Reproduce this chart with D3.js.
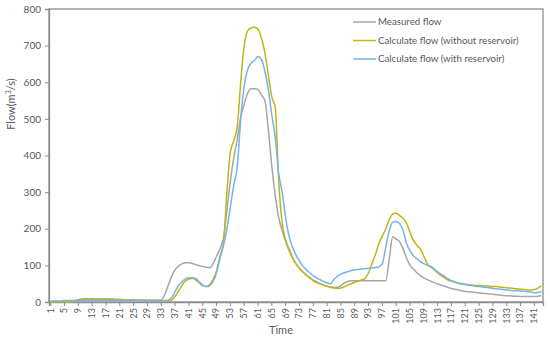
<!DOCTYPE html>
<html>
<head>
<meta charset="utf-8">
<script src="https://cdn.jsdelivr.net/npm/d3@7"></script>
<style>
body { margin:0; background:#fff; }
text { font-family: "Lato", "Open Sans", sans-serif; fill:#595959; }
</style>
</head>
<body>
<svg id="graph" width="550" height="340"></svg>
<script>
// Time steps 1..143
var temps = d3.range(1, 144);

// Measured flow (m3/s)
var debitMesure = [
 0,0,1,1,2,2,3,4,
 6,7,8,8,8,8,8,8,
 8,8,7,7,7,6,6,6,
 5,5,5,5,5,5,5,5,
 6,20,45,70,88,98,104,107,
 107,105,102,99,97,95,93,105,
 125,145,175,250,330,395,445,505,
 540,570,582,582,580,565,550,470,
 370,290,230,195,165,140,120,104,
 92,82,74,67,60,55,50,46,
 43,41,40,40,45,52,56,58,
 58,58,58,58,58,58,58,58,
 58,58,118,178,172,165,145,120,
 100,90,80,72,66,61,57,53,
 49,46,43,40,37,35,33,31,
 29,28,27,26,25,24,23,22,
 21,20,19,18,17,17,16,16,
 15,15,15,15,15,16,18
];

// Calculate flow without reservoir
var sansReservoir = [
 0,0,0,0,0,0,1,3,
 6,8,9,9,9,9,9,8,
 8,8,8,7,7,7,6,6,
 6,5,5,5,4,4,4,3,
 3,2,2,5,15,30,45,58,
 62,65,60,52,44,42,48,62,
 85,125,160,300,410,440,480,600,
 700,740,748,750,745,720,680,620,
 560,530,330,215,170,145,122,105,
 92,82,73,65,58,53,49,46,
 43,40,38,37,38,42,46,50,
 54,57,60,65,80,105,130,160,
 180,200,225,240,242,236,228,215,
 190,168,155,145,125,105,95,88,
 80,72,66,60,57,54,51,49,
 48,47,46,45,45,44,44,43,
 42,42,41,40,39,38,37,36,
 35,34,33,33,34,38,44
];

// Calculate flow with reservoir
var avecReservoir = [
 3,3,3,3,4,4,4,4,
 5,5,5,5,5,5,5,5,
 5,5,5,5,5,5,5,5,
 4,4,4,4,4,4,4,4,
 4,4,5,12,28,45,55,63,
 66,66,64,55,46,42,45,56,
 80,120,155,200,260,320,370,500,
 590,635,652,660,670,662,630,580,
 510,450,350,300,230,180,150,128,
 112,98,88,80,72,66,61,56,
 52,50,62,70,76,80,83,86,
 88,89,90,91,92,93,94,96,
 105,150,195,218,220,214,195,160,
 140,126,118,110,105,100,97,90,
 82,76,70,63,58,55,52,50,
 48,46,45,43,42,41,40,39,
 37,36,35,34,33,32,31,31,
 30,29,28,27,25,26,28
];

var nomsSeries = ["Measured flow", "Calculate flow (without reservoir)", "Calculate flow (with reservoir)"];
var couleurs = ["#a6a6a6", "#c4b414", "#74b4e6"];
var yTicks = [0,100,200,300,400,500,600,700,800];

var svg = d3.select("#graph");
var gauche = 49, droite = 543, haut = 9, bas = 302;

// scales
var scaleX = d3.scaleBand().domain(temps).range([gauche, droite]);
var scaleY = d3.scaleLinear().domain([0, 800]).range([bas, haut]);

// cadre
svg.append("rect")
  .attr("x", gauche).attr("y", haut)
  .attr("width", droite - gauche).attr("height", bas - haut)
  .attr("fill", "none").attr("stroke", "#8c8c8c").attr("stroke-width", 1.3);

// Axe Y
var yAxis = d3.axisLeft(scaleY).tickValues(yTicks).tickSize(4).tickPadding(4);
var gy = svg.append("g").attr("transform", "translate(" + gauche + ",0)").call(yAxis);
gy.select(".domain").attr("stroke", "#8c8c8c").attr("stroke-width", 1.3);
gy.selectAll(".tick line").attr("stroke", "#8c8c8c");
gy.selectAll("text").attr("font-size", 10).attr("font-family", "Lato").attr("fill", "#595959");

// Axe X : une etiquette sur 4
var xAxis = d3.axisBottom(scaleX)
  .tickValues(temps.filter(function(d) { return (d - 1) % 4 == 0; }))
  .tickSize(4).tickPadding(3);
var gx = svg.append("g").attr("transform", "translate(0," + bas + ")").call(xAxis);
gx.select(".domain").attr("stroke", "#8c8c8c").attr("stroke-width", 1.3);
gx.selectAll(".tick line").attr("stroke", "#8c8c8c");
gx.selectAll("text")
  .attr("font-size", 9).attr("font-family", "Lato").attr("fill", "#6a6a6a")
  .attr("transform", "rotate(-90)")
  .attr("text-anchor", "end")
  .attr("x", -6).attr("y", 0).attr("dy", "0.32em");

// titres des axes
svg.append("text").attr("x", 281).attr("y", 334)
  .attr("text-anchor", "middle").attr("font-size", 11).text("Time");
var titreY = svg.append("text")
  .attr("transform", "translate(15,104) rotate(-90)")
  .attr("text-anchor", "middle").attr("font-size", 11);
titreY.append("tspan").text("Flow(m");
titreY.append("tspan").attr("font-size", 7).attr("dy", -4).text("3");
titreY.append("tspan").attr("dy", 4).text("/s)");

// courbes
var ligne = d3.line()
  .x(function(d, i) { return scaleX(temps[i]) + scaleX.bandwidth() / 2; })
  .y(function(d) { return scaleY(d); })
  .curve(d3.curveMonotoneX);

var series = [debitMesure, sansReservoir, avecReservoir];
for (var k = 0; k < series.length; k++) {
  svg.append("path")
    .attr("d", ligne(series[k]))
    .attr("fill", "none")
    .attr("stroke", couleurs[k])
    .attr("stroke-width", 1.5);
}

// legende
for (var j = 0; j < nomsSeries.length; j++) {
  var ly = 22 + j * 18.5;
  svg.append("line")
    .attr("x1", 353).attr("x2", 376).attr("y1", ly).attr("y2", ly)
    .attr("stroke", couleurs[j]).attr("stroke-width", 1.5);
  svg.append("text").attr("x", 378).attr("y", ly).attr("dy", "0.35em")
    .attr("font-size", 9.7).text(nomsSeries[j]);
}
</script>
</body>
</html>
